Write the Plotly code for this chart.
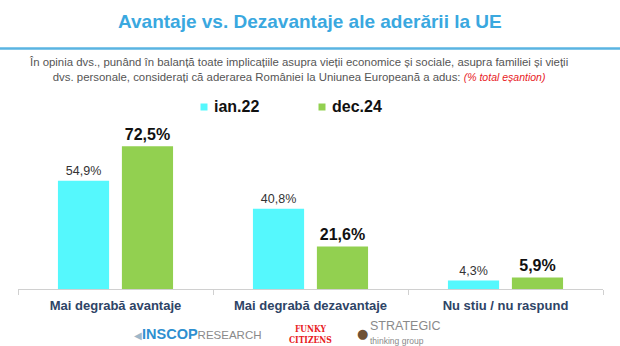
import plotly.graph_objects as go

categories = ["Mai degrabă avantaje", "Mai degrabă dezavantaje", "Nu stiu / nu raspund"]
series_names = ["ian.22", "dec.24"]
values_ian22 = [54.9, 40.8, 4.3]
values_dec24 = [72.5, 21.6, 5.9]
colors = ["#55F8FD", "#92D050"]

W, H = 620, 346
L, R, T, B = 18, 17, 120, 57
PW, PH = W - L - R, H - T - B
YMAX = 85.8


def px(x):
    return (x - L) / PW


def py(y):
    return (H - B - y) / PH


def fmt(v):
    return f"{v:.1f}".replace(".", ",") + "%"


fig = go.Figure()
fig.add_trace(go.Bar(
    x=categories, y=values_ian22, name=series_names[0],
    marker=dict(color=colors[0], line=dict(width=0)),
    text=[fmt(v) for v in values_ian22], textposition="outside",
    textfont=dict(family="Liberation Sans, Arial", size=12.5, color="#333333"),
    cliponaxis=False,
))
fig.add_trace(go.Bar(
    x=categories, y=values_dec24, name=series_names[1],
    marker=dict(color=colors[1], line=dict(width=0)),
    text=[f"<b>{fmt(v)}</b>" for v in values_dec24], textposition="outside",
    textfont=dict(family="Liberation Sans, Arial", size=16, color="#111111"),
    cliponaxis=False,
))

annotations = []
shapes = []
# Title
annotations.append(dict(
    text="<b>Avantaje vs. Dezavantaje ale aderării la UE</b>",
    x=px(310), y=py(22), xref="paper", yref="paper", showarrow=False,
    xanchor="center", yanchor="middle",
    font=dict(family="Liberation Sans, Arial", size=19, color="#3AA8DF"),
))
# Subtitle
annotations.append(dict(
    text=("În opinia dvs., punând în balanță toate implicațiile asupra vieții economice și sociale, asupra familiei și vieții<br>"
          "dvs. personale, considerați că aderarea României la Uniunea Europeană a adus: "
          "<i><span style='color:#E8201E;font-size:10.5px'>(% total eșantion)</span></i>"),
    x=px(298), y=py(69), xref="paper", yref="paper", showarrow=False,
    xanchor="center", yanchor="middle", align="center",
    font=dict(family="Liberation Sans, Arial", size=11.4, color="#555555"),
))
# Legend (built from series names / colours)
legend_x = [204, 322]
for name, col, lx in zip(series_names, colors, legend_x):
    shapes.append(dict(
        type="rect", xref="paper", yref="paper",
        x0=px(lx - 3.5), x1=px(lx + 3.5), y0=py(110.5), y1=py(103.5),
        fillcolor=col, line=dict(width=0),
    ))
    annotations.append(dict(
        text=f"<b>{name}</b>",
        x=px(lx + 8), y=py(106), xref="paper", yref="paper", showarrow=False,
        xanchor="left", yanchor="middle",
        font=dict(family="Liberation Sans, Arial", size=16, color="#111111"),
    ))
# Logos as text
annotations.append(dict(
    text="<span style='color:#9fb7c9;font-size:10px'>◀</span><b><span style='color:#2E8FD0'>INSCOP</span></b><span style='color:#8a8a8a;font-size:11.5px'>RESEARCH</span>",
    x=px(198), y=py(334), xref="paper", yref="paper", showarrow=False,
    xanchor="center", yanchor="middle",
    font=dict(family="Liberation Sans, Arial", size=14.5, color="#2E8FD0"),
))
annotations.append(dict(
    text="<b>FUNKY</b><br><b>CITIZENS</b>",
    x=px(310), y=py(334), xref="paper", yref="paper", showarrow=False,
    xanchor="center", yanchor="middle", align="center",
    font=dict(family="DejaVu Serif Condensed, DejaVu Serif", size=8.5, color="#E8201E"),
))
annotations.append(dict(
    text="<span style='font-size:12.5px'>STRATEGIC</span><br><span style='font-size:8.5px'>thinking group</span>",
    x=px(368), y=py(332), xref="paper", yref="paper", showarrow=False,
    xanchor="left", yanchor="middle", align="left",
    font=dict(family="Liberation Sans, Arial", size=11, color="#8a8a8a"),
))
annotations.append(dict(
    text="●", x=px(362), y=py(333), xref="paper", yref="paper", showarrow=False,
    xanchor="center", yanchor="middle",
    font=dict(family="DejaVu Sans", size=13, color="#6e5238"),
))

shapes.append(dict(
    type="line", xref="paper", yref="paper",
    x0=px(0), x1=px(620), y0=py(48.5), y1=py(48.5),
    line=dict(color="#5AB4E2", width=2.5),
))

fig.update_layout(
    width=W, height=H,
    margin=dict(l=L, r=R, t=T, b=B, pad=0),
    paper_bgcolor="white", plot_bgcolor="white",
    barmode="group", bargap=0.344, bargroupgap=0.2,
    showlegend=False,
    annotations=annotations, shapes=shapes,
    xaxis=dict(
        showline=True, linecolor="#D0D0D0", linewidth=1,
        ticks="outside", tickson="boundaries", ticklen=5, tickcolor="#D0D0D0",
        tickfont=dict(family="Liberation Sans, Arial", size=13, color="#2E4466"),
        ticklabelstandoff=4,
        showgrid=False,
    ),
    yaxis=dict(range=[0, YMAX], visible=False, showgrid=False, zeroline=False),
    font=dict(family="Liberation Sans, Arial"),
)
fig.update_xaxes(ticktext=[f"<b>{c}</b>" for c in categories], tickvals=categories)

fig.write_html("out.html")
